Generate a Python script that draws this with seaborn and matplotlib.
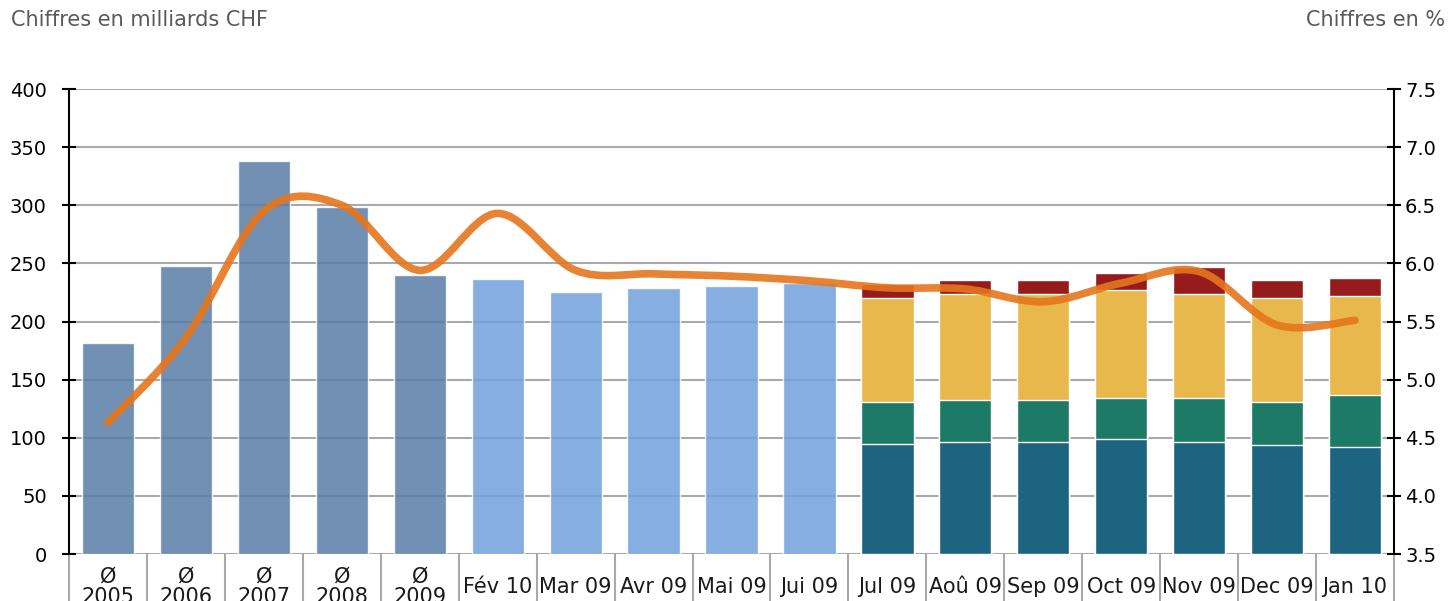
import numpy as np
import pandas as pd
import matplotlib
matplotlib.use("Agg")
import matplotlib.pyplot as plt
from matplotlib.path import Path
from matplotlib.patches import PathPatch
import seaborn as sns

# categories on the x axis
categories = ["Ø\n2005", "Ø\n2006", "Ø\n2007", "Ø\n2008", "Ø\n2009",
              "Fév 10", "Mar 09", "Avr 09", "Mai 09", "Jui 09",
              "Jul 09", "Aoû 09", "Sep 09", "Oct 09", "Nov 09", "Dec 09", "Jan 10"]

# single bars (milliards CHF)
annual_cats = categories[:5]
annual_values = [181.5, 247.5, 338.0, 298.5, 240.0]
monthly_cats = categories[5:10]
monthly_values = [236.5, 225.5, 228.5, 230.5, 233.0]

# stacked bars (milliards CHF)
stack_cats = categories[10:]
seg_teal = [95.0, 96.5, 96.5, 98.5, 96.5, 93.5, 92.0]
seg_green = [35.5, 36.0, 36.0, 35.5, 37.5, 37.0, 44.5]
seg_yellow = [90.0, 91.5, 91.5, 93.0, 89.5, 90.0, 85.5]
seg_red = [11.5, 11.5, 11.5, 14.5, 23.5, 15.0, 15.0]

# line on right axis (%)
rate_pct = [4.63, 5.36, 6.45, 6.50, 5.94, 6.43, 5.94, 5.91, 5.89, 5.85,
            5.79, 5.78, 5.67, 5.83, 5.93, 5.47, 5.51]

left_ticks = [0, 50, 100, 150, 200, 250, 300, 350, 400]
right_ticks = [3.5, 4.0, 4.5, 5.0, 5.5, 6.0, 6.5, 7.0, 7.5]

C_ANNUAL = "#587da6"
C_MONTHLY = "#72a0dc"
C_TEAL = "#1c6480"
C_GREEN = "#1c7a66"
C_YELLOW = "#e9b84d"
C_RED = "#961b1d"
C_LINE = "#e5761c"
GRID = "#a9a9a9"

sns.set_style("white")
plt.rcParams["font.family"] = ["DejaVu Sans"]


def smooth_path(xs, ys):
    # excel-style smoothed line: bezier segments through the data points
    pts = np.column_stack([xs, ys]).astype(float)
    n = len(pts)
    verts = [pts[0]]
    codes = [Path.MOVETO]
    for i in range(n - 1):
        p0 = pts[i - 1] if i > 0 else pts[i]
        p1 = pts[i]
        p2 = pts[i + 1]
        p3 = pts[i + 2] if i + 2 < n else pts[i + 1]
        verts += [p1 + (p2 - p0) / 6, p2 - (p3 - p1) / 6, p2]
        codes += [Path.CURVE4] * 3
    return Path(verts, codes)


fig = plt.figure(figsize=(14.53, 6.01), dpi=100)
ax = fig.add_axes([0.0475, 0.0782, 0.9119, 0.7737])

bars = pd.DataFrame({
    "cat": annual_cats + monthly_cats,
    "value": annual_values + monthly_values,
    "group": ["annual"] * len(annual_cats) + ["monthly"] * len(monthly_cats),
})
sns.barplot(data=bars, x="cat", y="value", hue="group", order=categories,
            palette={"annual": C_ANNUAL, "monthly": C_MONTHLY}, dodge=False,
            width=0.67, alpha=0.85, saturation=1, errorbar=None, legend=False, ax=ax)

# stacked bars: draw cumulative totals from top to bottom
cum = np.cumsum([seg_teal, seg_green, seg_yellow, seg_red], axis=0)
for level, color in zip([3, 2, 1, 0], [C_RED, C_YELLOW, C_GREEN, C_TEAL]):
    sns.barplot(x=stack_cats, y=cum[level], order=categories, color=color,
                width=0.67, saturation=1, errorbar=None, ax=ax)

ax.set_xlim(-0.5, len(categories) - 0.5)
ax.set_ylim(0, 400)
ax.set_yticks(left_ticks)
ax.set_xlabel("")
ax.set_ylabel("")
ax.set_axisbelow(True)
ax.yaxis.grid(True, color=GRID, lw=1.5)
ax.xaxis.grid(False)
for s in ["top", "right", "bottom"]:
    ax.spines[s].set_visible(False)
ax.spines["left"].set_color("black")
ax.spines["left"].set_linewidth(1.5)
ax.tick_params(axis="y", direction="inout", length=10, width=1.5, pad=11,
               labelsize=14, left=True, colors="black")
ax.set_xticks(range(len(categories)))
ax.set_xticklabels(categories, fontsize=15, va="center", linespacing=1.05, color="#1a1a1a")
ax.tick_params(axis="x", length=0, pad=23.8)

# table-like separators under the axis
ax.vlines(np.arange(len(categories) + 1) - 0.5, -0.2, 0,
          transform=ax.get_xaxis_transform(), clip_on=False, color=GRID, lw=1.5)

ax2 = ax.twinx()
ax2.set_ylim(3.5, 7.5)
ax2.set_yticks(right_ticks)
ax2.set_yticklabels([f"{t:.1f}" for t in right_ticks])
for s in ["top", "left", "bottom"]:
    ax2.spines[s].set_visible(False)
ax2.spines["right"].set_color("black")
ax2.spines["right"].set_linewidth(1.5)
ax2.tick_params(axis="y", direction="inout", length=10, width=1.5, pad=3,
                labelsize=14, right=True, colors="black")
ax2.grid(False)

line = PathPatch(smooth_path(np.arange(len(rate_pct)), rate_pct), fill=False,
                 edgecolor=C_LINE, lw=5.5, alpha=0.9, capstyle="round",
                 joinstyle="round", transform=ax2.transData)
ax2.add_patch(line)

fig.text(11 / 1453, 1 - 20 / 601, "Chiffres en milliards CHF", ha="left", va="center",
         fontsize=15, color="#595959")
fig.text(1445 / 1453, 1 - 20 / 601, "Chiffres en %", ha="right", va="center",
         fontsize=15, color="#595959")

fig.savefig("out.png", dpi=100)
